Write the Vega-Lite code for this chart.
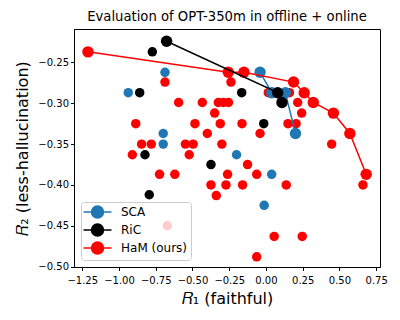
{
  "$schema": "https://vega.github.io/schema/vega-lite/v6.json",
  "autosize": "none",
  "width": 306,
  "height": 238,
  "padding": {"left": 74, "top": 29, "right": 20, "bottom": 53},
  "background": "white",
  "title": {"text": "Evaluation of OPT-350m in offline + online", "fontSize": 13.2, "fontWeight": "normal", "font": "DejaVu Sans", "color": "black", "offset": 5},
  "config": {
    "font": "DejaVu Sans",
    "view": {"stroke": "black", "strokeWidth": 1},
    "axis": {"grid": false, "domainColor": "black", "tickColor": "black", "labelColor": "black", "titleColor": "black", "labelFont": "DejaVu Sans", "titleFont": "DejaVu Sans", "labelFontSize": 10, "tickSize": 3.5, "labelPadding": 3, "titleFontWeight": "normal", "titleFontSize": 16}
  },
  "data": {"values": [
    {"m": "HaM", "x": -0.687, "y": -0.274, "f": 0},
    {"m": "HaM", "x": -0.594, "y": -0.299, "f": 0},
    {"m": "HaM", "x": -0.433, "y": -0.299, "f": 0},
    {"m": "HaM", "x": -0.324, "y": -0.299, "f": 0},
    {"m": "HaM", "x": -0.290, "y": -0.299, "f": 0},
    {"m": "HaM", "x": -0.255, "y": -0.299, "f": 0},
    {"m": "HaM", "x": -0.238, "y": -0.274, "f": 0},
    {"m": "HaM", "x": -0.349, "y": -0.312, "f": 0},
    {"m": "HaM", "x": -0.886, "y": -0.325, "f": 0},
    {"m": "HaM", "x": -0.483, "y": -0.325, "f": 0},
    {"m": "HaM", "x": -0.311, "y": -0.325, "f": 0},
    {"m": "HaM", "x": -0.163, "y": -0.325, "f": 0},
    {"m": "HaM", "x": -0.399, "y": -0.337, "f": 0},
    {"m": "HaM", "x": -0.040, "y": -0.337, "f": 0},
    {"m": "HaM", "x": -0.846, "y": -0.350, "f": 0},
    {"m": "HaM", "x": -0.780, "y": -0.350, "f": 0},
    {"m": "HaM", "x": -0.548, "y": -0.350, "f": 0},
    {"m": "HaM", "x": -0.495, "y": -0.350, "f": 0},
    {"m": "HaM", "x": -0.300, "y": -0.350, "f": 0},
    {"m": "HaM", "x": -0.909, "y": -0.363, "f": 0},
    {"m": "HaM", "x": -0.522, "y": -0.363, "f": 0},
    {"m": "HaM", "x": -0.125, "y": -0.375, "f": 0},
    {"m": "HaM", "x": -0.724, "y": -0.387, "f": 0},
    {"m": "HaM", "x": -0.620, "y": -0.387, "f": 0},
    {"m": "HaM", "x": -0.261, "y": -0.387, "f": 0},
    {"m": "HaM", "x": -0.063, "y": -0.387, "f": 0},
    {"m": "HaM", "x": -0.374, "y": -0.400, "f": 0},
    {"m": "HaM", "x": -0.272, "y": -0.400, "f": 0},
    {"m": "HaM", "x": -0.159, "y": -0.400, "f": 0},
    {"m": "HaM", "x": 0.138, "y": -0.400, "f": 0},
    {"m": "HaM", "x": -0.338, "y": -0.413, "f": 0},
    {"m": "HaM", "x": 0.056, "y": -0.463, "f": 0},
    {"m": "HaM", "x": 0.247, "y": -0.463, "f": 0},
    {"m": "HaM", "x": -0.063, "y": -0.488, "f": 0},
    {"m": "HaM", "x": -0.671, "y": -0.450, "f": 0},
    {"m": "HaM", "x": 0.016, "y": -0.287, "f": 0},
    {"m": "HaM", "x": 0.160, "y": -0.287, "f": 0},
    {"m": "HaM", "x": 0.216, "y": -0.299, "f": 0},
    {"m": "HaM", "x": 0.243, "y": -0.312, "f": 0},
    {"m": "HaM", "x": 0.150, "y": -0.325, "f": 0},
    {"m": "HaM", "x": 0.205, "y": -0.325, "f": 0},
    {"m": "HaM", "x": 0.447, "y": -0.350, "f": 0},
    {"m": "HaM", "x": 0.660, "y": -0.400, "f": 0},
    {"m": "SCA", "x": -0.687, "y": -0.262, "f": 0},
    {"m": "SCA", "x": -0.937, "y": -0.287, "f": 0},
    {"m": "SCA", "x": -0.699, "y": -0.337, "f": 0},
    {"m": "SCA", "x": -0.699, "y": -0.350, "f": 0},
    {"m": "SCA", "x": -0.200, "y": -0.363, "f": 0},
    {"m": "SCA", "x": 0.039, "y": -0.387, "f": 0},
    {"m": "SCA", "x": -0.012, "y": -0.425, "f": 0},
    {"m": "RiC", "x": -0.773, "y": -0.237, "f": 0},
    {"m": "RiC", "x": -0.859, "y": -0.287, "f": 0},
    {"m": "RiC", "x": -0.165, "y": -0.287, "f": 0},
    {"m": "RiC", "x": -0.015, "y": -0.325, "f": 0},
    {"m": "RiC", "x": -0.823, "y": -0.363, "f": 0},
    {"m": "RiC", "x": -0.374, "y": -0.375, "f": 0},
    {"m": "RiC", "x": -0.794, "y": -0.412, "f": 0},
    {"m": "SCA", "x": -0.040, "y": -0.262, "f": 1},
    {"m": "SCA", "x": 0.040, "y": -0.287, "f": 1},
    {"m": "SCA", "x": 0.132, "y": -0.287, "f": 1},
    {"m": "SCA", "x": 0.201, "y": -0.337, "f": 1},
    {"m": "HaM", "x": -1.211, "y": -0.237, "f": 1},
    {"m": "HaM", "x": -0.256, "y": -0.262, "f": 1},
    {"m": "HaM", "x": -0.150, "y": -0.262, "f": 1},
    {"m": "HaM", "x": 0.188, "y": -0.274, "f": 1},
    {"m": "HaM", "x": 0.260, "y": -0.287, "f": 1},
    {"m": "HaM", "x": 0.322, "y": -0.299, "f": 1},
    {"m": "HaM", "x": 0.459, "y": -0.312, "f": 1},
    {"m": "HaM", "x": 0.571, "y": -0.337, "f": 1},
    {"m": "HaM", "x": 0.682, "y": -0.387, "f": 1},
    {"m": "RiC", "x": -0.676, "y": -0.224, "f": 1},
    {"m": "RiC", "x": 0.080, "y": -0.287, "f": 1},
    {"m": "RiC", "x": 0.109, "y": -0.299, "f": 1}
  ]},
  "encoding": {
    "x": {"field": "x", "type": "quantitative", "scale": {"domain": [-1.306, 0.776], "nice": false, "zero": false}, "axis": {"values": [-1.25, -1, -0.75, -0.5, -0.25, 0, 0.25, 0.5, 0.75], "format": ".2f", "title": "𝑅₁ (faithful)", "titlePadding": 5, "labelPadding": 4.5}},
    "y": {"field": "y", "type": "quantitative", "scale": {"domain": [-0.5005, -0.209], "nice": false, "zero": false}, "axis": {"values": [-0.5, -0.45, -0.4, -0.35, -0.3, -0.25], "format": ".2f", "title": "𝑅₂ (less-hallucination)", "titlePadding": 7, "labelPadding": 2}},
    "color": {"field": "m", "type": "nominal", "scale": {"domain": ["SCA", "RiC", "HaM"], "range": ["#1f77b4", "black", "red"]},
      "legend": {"title": null, "orient": "bottom-left", "offset": 7, "padding": 3, "fillColor": "rgba(255,255,255,0.8)", "strokeColor": "#cccccc", "cornerRadius": 3,
        "labelFont": "DejaVu Sans", "labelFontSize": 12, "labelColor": "black", "labelExpr": "datum.value === 'HaM' ? 'HaM (ours)' : datum.value",
        "symbolType": "M-2.33,0H2.33M-1,0A1,1,0,1,1,1,0A1,1,0,1,1,-1,0Z", "symbolSize": 144, "symbolOffset": 6.5, "labelOffset": 16.5, "rowPadding": 0, "symbolStrokeWidth": 1.5, "symbolOpacity": 1,
        "encode": {"symbols": {"update": {"stroke": {"scale": "color", "field": "value"}, "fill": {"scale": "color", "field": "value"}, "strokeWidth": {"value": 1.5}, "opacity": {"value": 1}}}}}
    }
  },
  "layer": [
    {"transform": [{"filter": "datum.f == 0"}], "mark": {"type": "point", "filled": true, "size": 90, "opacity": 1}},
    {"transform": [{"filter": "datum.f == 1 && datum.m == 'SCA'"}], "mark": {"type": "line", "strokeWidth": 1.5}},
    {"transform": [{"filter": "datum.f == 1 && datum.m == 'SCA'"}], "mark": {"type": "point", "filled": true, "size": 130, "opacity": 1}},
    {"transform": [{"filter": "datum.f == 1 && datum.m == 'HaM'"}], "mark": {"type": "line", "strokeWidth": 1.5}},
    {"transform": [{"filter": "datum.f == 1 && datum.m == 'HaM'"}], "mark": {"type": "point", "filled": true, "size": 130, "opacity": 1}},
    {"transform": [{"filter": "datum.f == 1 && datum.m == 'RiC'"}], "mark": {"type": "line", "strokeWidth": 1.5}},
    {"transform": [{"filter": "datum.f == 1 && datum.m == 'RiC'"}], "mark": {"type": "point", "filled": true, "size": 130, "opacity": 1}}
  ]
}
